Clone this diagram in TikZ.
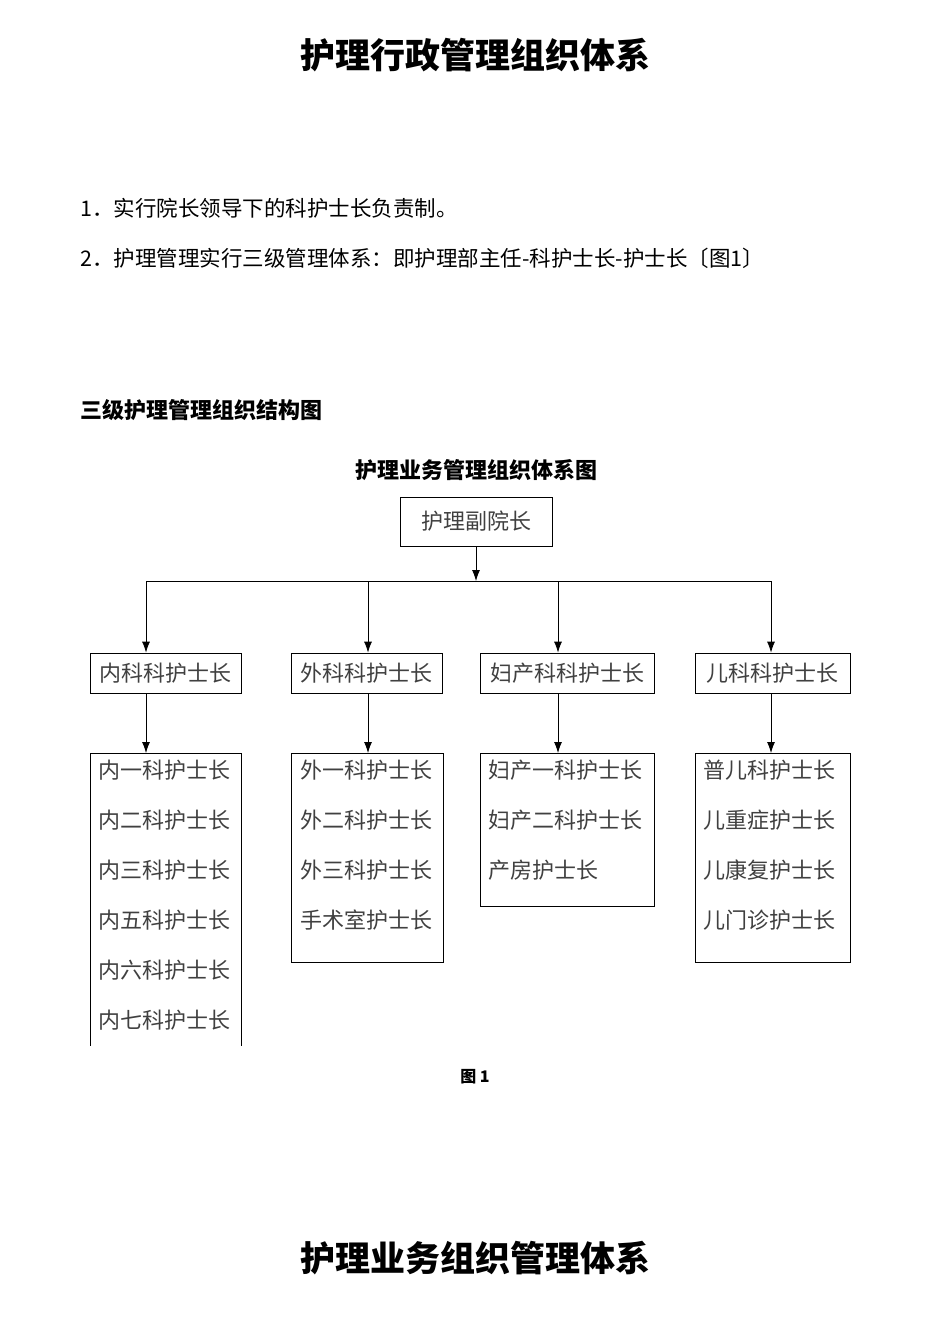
\documentclass[tikz,border=0pt]{standalone}
\usepackage{fontspec}
\setmainfont{Noto Sans CJK SC}
\usetikzlibrary{arrows.meta,positioning}

\begin{document}
\begin{tikzpicture}[x=1pt,y=-1pt,line width=0.8pt,>={Latex[length=11pt,width=8pt]},
  caja/.style={draw,inner sep=0pt,font=\fontsize{22}{22}\selectfont,text=black!75},
  cajalista/.style={draw,anchor=north west,inner sep=0pt,minimum width=#1},
  renglon/.style={anchor=west,inner sep=0pt,font=\fontsize{22}{22}\selectfont,text=black!75}]
  \useasboundingbox (0,0) rectangle (950,1344);
  % titulos y texto
  \node[font=\fontsize{35}{35}\selectfont\bfseries] (titulo) at (475,55){护理行政管理组织体系};
  \node[anchor=west,inner sep=0pt,font=\fontsize{21.5}{21.5}\selectfont] (linea1) at (80,208){1．实行院长领导下的科护士长负责制。};
  \node[anchor=west,inner sep=0pt,font=\fontsize{21.5}{21.5}\selectfont] (linea2) at (80,258){2．护理管理实行三级管理体系：即护理部主任-科护士长-护士长〔图1〕};
  \node[anchor=west,inner sep=0pt,font=\fontsize{22}{22}\selectfont\bfseries] (subtit) at (80,410){三级护理管理组织结构图};
  \node[font=\fontsize{22}{22}\selectfont\bfseries] (diagtit) at (476,470){护理业务管理组织体系图};
  % nivel 1
  \node[caja,minimum width=152pt,minimum height=49pt] (jefe) at (476,521.5){护理副院长};
  \coordinate (bus) at (476,581);
  \coordinate (c1) at (146,581);
  \coordinate (c2) at (368,581);
  \coordinate (c3) at (558,581);
  \coordinate (c4) at (771,581);
  \draw[->] (jefe.south) -- (bus);
  \draw (c1) -- (c4);
  % nivel 2
  \node[caja,minimum width=151pt,minimum height=40pt] (k1) at (165.5,673){内科科护士长};
  \node[caja,minimum width=151pt,minimum height=40pt] (k2) at (366.5,673){外科科护士长};
  \node[caja,minimum width=174pt,minimum height=40pt] (k3) at (567,673){妇产科科护士长};
  \node[caja,minimum width=155pt,minimum height=40pt] (k4) at (772.5,673){儿科科护士长};
  % nivel 3
  \node[cajalista=151pt,draw=none,minimum height=292pt] (l1) at (90,753){};
  \draw (l1.south west) -- (l1.north west) -- (l1.north east) -- (l1.south east);
  \node[cajalista=152pt,minimum height=209pt] (l2) at (291,753){};
  \node[cajalista=174pt,minimum height=153pt] (l3) at (480,753){};
  \node[cajalista=155pt,minimum height=209pt] (l4) at (695,753){};
  \foreach \t [count=\i from 0] in {内一科护士长,内二科护士长,内三科护士长,内五科护士长,内六科护士长,内七科护士长}
    \node[renglon] (l1-\i) at (98,770+50*\i){\t};
  \foreach \t [count=\i from 0] in {外一科护士长,外二科护士长,外三科护士长,手术室护士长}
    \node[renglon] (l2-\i) at (300,770+50*\i){\t};
  \foreach \t [count=\i from 0] in {妇产一科护士长,妇产二科护士长,产房护士长}
    \node[renglon] (l3-\i) at (488,770+50*\i){\t};
  \foreach \t [count=\i from 0] in {普儿科护士长,儿重症护士长,儿康复护士长,儿门诊护士长}
    \node[renglon] (l4-\i) at (703,770+50*\i){\t};
  % flechas
  \foreach \n in {1,2,3,4}{
    \draw[->] (c\n) -- (c\n |- k\n.north);
    \draw[->] (k\n.south -| c\n) -- (c\n |- l\n.north);
  }
  \node[font=\fontsize{16}{16}\selectfont\bfseries] (fig) at (475,1077){图 1};
  \node[font=\fontsize{35}{35}\selectfont\bfseries] (titulo2) at (475,1258){护理业务组织管理体系};
\end{tikzpicture}
\end{document}
